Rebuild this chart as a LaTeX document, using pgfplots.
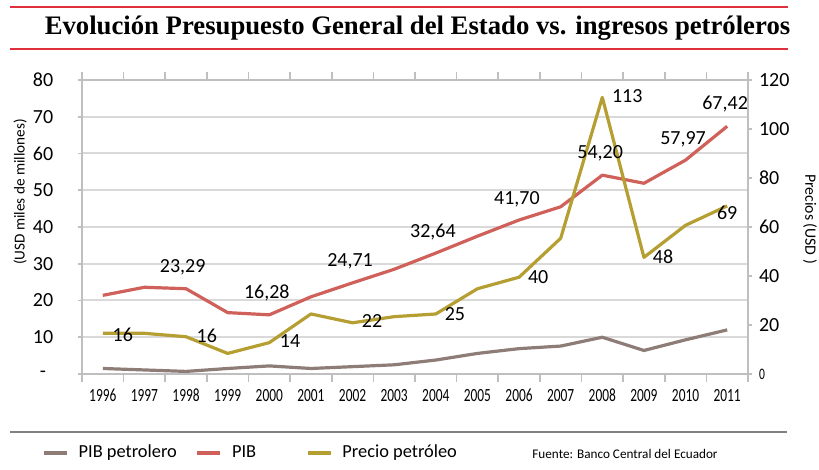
\documentclass[border=0pt]{standalone}
\usepackage{pgfplots}
\pgfplotsset{compat=1.18}
\usepackage{fontspec}
\setmainfont{Carlito}
\newfontfamily\titlefont{Liberation Serif}
\newfontfamily\condfont[FakeStretch=0.72]{Carlito}
\definecolor{cred}{HTML}{D0605A}
\definecolor{cgold}{HTML}{B59F33}
\definecolor{cbrown}{HTML}{8E7C77}
\definecolor{cgrid}{HTML}{D9D9D9}
\definecolor{caxis}{HTML}{BFBFBF}
\definecolor{ctitle}{HTML}{E0303C}

\pgfplotstableread{
x pibp pib precio
0 1.5 21.4 16.6
1 1.1 23.6 16.6
2 0.7 23.2 15.2
3 1.5 16.7 8.4
4 2.2 16.1 12.8
5 1.5 21.0 24.5
6 2.0 24.8 20.9
7 2.5 28.5 23.4
8 3.8 32.9 24.5
9 5.6 37.5 34.8
10 6.9 41.9 39.5
11 7.6 45.5 55.4
12 10.0 54.1 112.9
13 6.4 51.9 47.6
14 9.3 58.2 60.7
15 12.0 67.4 68.6
}\datatable

\begin{document}
\begin{tikzpicture}
\path[use as bounding box] (0,0) rectangle (409.5pt,235pt);
% title and rules
\draw[ctitle, line width=0.8pt] (5pt,231.35pt) -- (394pt,231.35pt);
\draw[ctitle, line width=0.8pt] (5pt,210.5pt) -- (394pt,210.5pt);
\node[font=\titlefont\bfseries\fontsize{13.35}{15}\selectfont, anchor=center] at (208.75pt,221pt) {Evolución Presupuesto General del Estado vs. ingresos petróleros};
\draw[gray, line width=0.8pt] (5pt,19pt) -- (393.5pt,19pt);
\node[font=\fontsize{6.6}{7.5}\selectfont, anchor=west, inner sep=0pt] at (266pt,8pt) {Fuente: Banco Central del Ecuador};

\begin{axis}[
  at={(41pt,48pt)}, anchor=south west,
  scale only axis, width=333pt, height=147pt,
  xmin=-0.5, xmax=15.5, ymin=0, ymax=80,
  axis y line*=left,
  ytick={0,10,...,80},
  yticklabels={-,10,20,30,40,50,60,70,80},
  /pgf/number format/assume math mode=true,
  yticklabel style={font=\fontsize{10}{12}\selectfont, anchor=center, xshift=-17.5pt},
  xtick={0,...,15},
  xticklabels={1996,1997,1998,1999,2000,2001,2002,2003,2004,2005,2006,2007,2008,2009,2010,2011},
  xticklabel style={font=\condfont\fontsize{9.3}{11}\selectfont, yshift=-2pt},
  major x tick style={draw=none},
  minor xtick={-0.5,0.5,...,15.5},
  minor x tick style={caxis, line width=0.8pt},
  tick align=outside,
  minor tick length=4pt,
  major tick length=2pt,
  y tick style={caxis, line width=0.8pt},
  ymajorgrids, grid style={cgrid, line width=1pt},
  axis line style={caxis, line width=1pt},
  ylabel={(USD miles de millones)},
  ylabel style={at={(axis description cs:-0.093,0.619)}, anchor=center, font=\fontsize{7.6}{8.5}\selectfont},
  line join=round,
]
\addplot[cbrown, line width=1.6pt] table[x=x, y=pibp] {\datatable};
\addplot[cred, line width=1.6pt] table[x=x, y=pib] {\datatable};
\draw[caxis, line width=1pt] (rel axis cs:0,1) -- (rel axis cs:1,1);
\end{axis}

\begin{axis}[
  at={(41pt,48pt)}, anchor=south west,
  scale only axis, width=333pt, height=147pt,
  xmin=-0.5, xmax=15.5, ymin=0, ymax=120,
  axis y line*=right, axis x line=none,
  ytick={0,20,...,120},
  yticklabels={{\condfont\fontsize{8}{9}\selectfont 0},20,40,60,80,100,120},
  /pgf/number format/assume math mode=true,
  yticklabel style={font=\fontsize{10}{12}\selectfont},
  tick align=outside, major tick length=2pt,
  y tick style={caxis, line width=0.8pt},
  axis line style={caxis, line width=1pt},
  ylabel={Precios (USD )},
  ylabel style={at={(axis description cs:1.093,0.527)}, anchor=center, rotate=180, font=\fontsize{7.9}{9}\selectfont},
  clip=false,
  line join=round,
  legend style={draw=none, fill=none, at={(axis description cs:-0.06,-0.269)}, anchor=west,
    font=\fontsize{9.2}{11}\selectfont, legend columns=3, inner sep=0pt},
  legend image code/.code={\draw[#1, line width=1.6pt] (0pt,0pt) -- (11.5pt,0pt);},
  legend cell align=left,
]
\addlegendimage{cbrown}
\addlegendentry{\kern3pt PIB petrolero\rule{7.5pt}{0pt}}
\addlegendimage{cred}
\addlegendentry{\kern3pt PIB\rule{23pt}{0pt}}
\addplot[cgold, line width=1.6pt] table[x=x, y=precio] {\datatable};
\addlegendentry{\kern3pt Precio petróleo}
\begin{scope}[every node/.style={font=\fontsize{10}{12}\selectfont, anchor=center, inner sep=0pt}]
\node at (axis cs:1.92,43.7) {23,29};
\node at (axis cs:3.94,33.0) {16,28};
\node at (axis cs:5.94,46.05) {24,71};
\node at (axis cs:7.93,57.9) {32,64};
\node at (axis cs:9.95,71.4) {41,70};
\node at (axis cs:11.95,90.15) {54,20};
\node at (axis cs:13.94,95.85) {57,97};
\node at (axis cs:14.95,110.25) {67,42};
\node at (axis cs:0.48,15.9) {16};
\node at (axis cs:2.5,15.45) {16};
\node at (axis cs:4.5,13.5) {14};
\node at (axis cs:6.47,21.6) {22};
\node at (axis cs:8.46,24.45) {25};
\node at (axis cs:10.46,39.6) {40};
\node at (axis cs:12.6,113.4) {113};
\node at (axis cs:13.46,47.7) {48};
\node at (axis cs:15.0,65.7) {69};
\end{scope}
\end{axis}
\end{tikzpicture}
\end{document}
